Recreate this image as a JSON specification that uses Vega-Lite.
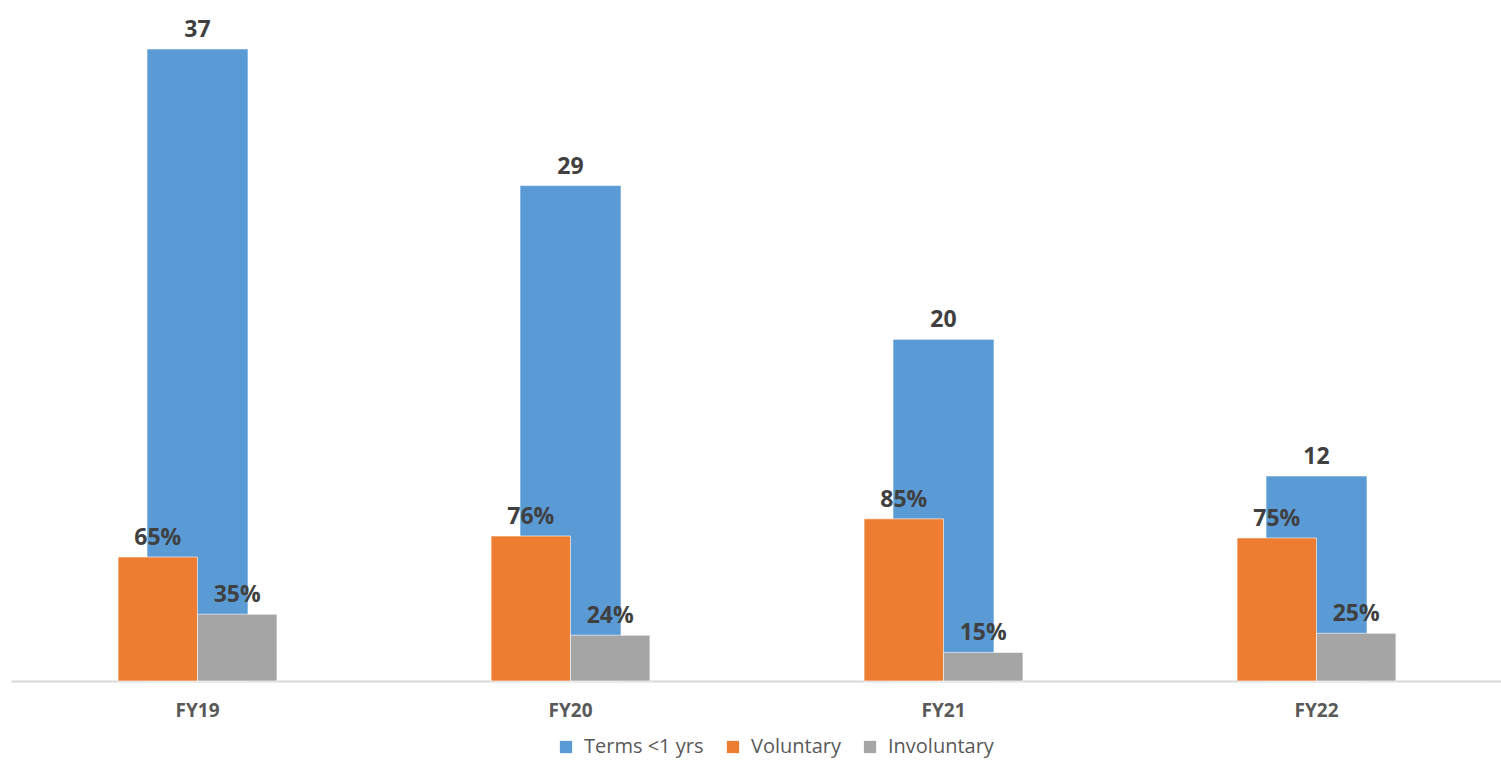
{
  "$schema": "https://vega.github.io/schema/vega-lite/v6.json",
  "width": 1492,
  "height": 671,
  "padding": {"left": 11, "top": 10, "right": 0, "bottom": 12},
  "background": "white",
  "config": {"view": {"stroke": null}, "font": "Open Sans"},
  "datasets": {
    "terms": [
      {"year": "FY19", "series": "Terms <1 yrs", "value": 37},
      {"year": "FY20", "series": "Terms <1 yrs", "value": 29},
      {"year": "FY21", "series": "Terms <1 yrs", "value": 20},
      {"year": "FY22", "series": "Terms <1 yrs", "value": 12}
    ],
    "split": [
      {"year": "FY19", "series": "Voluntary", "value": 0.65},
      {"year": "FY19", "series": "Involuntary", "value": 0.35},
      {"year": "FY20", "series": "Voluntary", "value": 0.76},
      {"year": "FY20", "series": "Involuntary", "value": 0.24},
      {"year": "FY21", "series": "Voluntary", "value": 0.85},
      {"year": "FY21", "series": "Involuntary", "value": 0.15},
      {"year": "FY22", "series": "Voluntary", "value": 0.75},
      {"year": "FY22", "series": "Involuntary", "value": 0.25}
    ]
  },
  "encoding": {
    "x": {
      "field": "year",
      "type": "nominal",
      "title": null,
      "scale": {"paddingInner": 0.574, "paddingOuter": 0.287},
      "axis": {
        "labelAngle": 0,
        "labelFont": "Open Sans",
        "labelFontWeight": "bold",
        "labelFontSize": 19,
        "labelColor": "#595959",
        "labelPadding": 20,
        "ticks": false,
        "domainColor": "#D9D9D9",
        "domainWidth": 2,
        "grid": false
      }
    }
  },
  "layer": [
    {
      "data": {"name": "terms"},
      "encoding": {
        "y": {
          "field": "value",
          "type": "quantitative",
          "scale": {"domain": [0, 39.28], "nice": false, "zero": true},
          "axis": null
        }
      },
      "layer": [
        {
          "mark": {"type": "bar", "size": 101, "stroke": "#ffffff", "strokeWidth": 1, "strokeOpacity": 0.6},
          "encoding": {
            "color": {
              "field": "series",
              "type": "nominal",
              "scale": {
                "domain": ["Terms <1 yrs", "Voluntary", "Involuntary"],
                "range": ["#5B9BD5", "#ED7D31", "#A5A5A5"]
              },
              "legend": {
                "orient": "none",
                "legendX": 545,
                "legendY": 727,
                "direction": "horizontal",
                "title": null,
                "symbolType": "square",
                "symbolSize": 150,
                "symbolStrokeWidth": 0,
                "labelFont": "Open Sans",
                "labelFontSize": 20,
                "labelColor": "#595959",
                "labelOffset": 8,
                "labelLimit": 300,
                "columnPadding": 19
              }
            }
          }
        },
        {
          "mark": {"type": "text", "baseline": "alphabetic", "dy": -12, "fontSize": 23, "fontWeight": "bold", "color": "#404040", "font": "Open Sans"},
          "encoding": {"text": {"field": "value", "type": "quantitative"}}
        }
      ]
    },
    {
      "data": {"name": "split"},
      "encoding": {
        "y": {
          "field": "value",
          "type": "quantitative",
          "scale": {"domain": [0, 3.517], "nice": false, "zero": true},
          "axis": null
        },
        "xOffset": {
          "field": "series",
          "type": "nominal",
          "scale": {"domain": ["Voluntary", "Involuntary"], "paddingInner": 0, "paddingOuter": 0}
        }
      },
      "layer": [
        {
          "mark": {"type": "bar", "stroke": "#ffffff", "strokeWidth": 1, "strokeOpacity": 0.6},
          "encoding": {
            "color": {"field": "series", "type": "nominal"}
          }
        },
        {
          "mark": {"type": "text", "baseline": "alphabetic", "dy": -12, "fontSize": 23, "fontWeight": "bold", "color": "#404040", "font": "Open Sans"},
          "encoding": {"text": {"field": "value", "type": "quantitative", "format": ".0%"}}
        }
      ]
    }
  ],
  "resolve": {"scale": {"y": "independent"}}
}
